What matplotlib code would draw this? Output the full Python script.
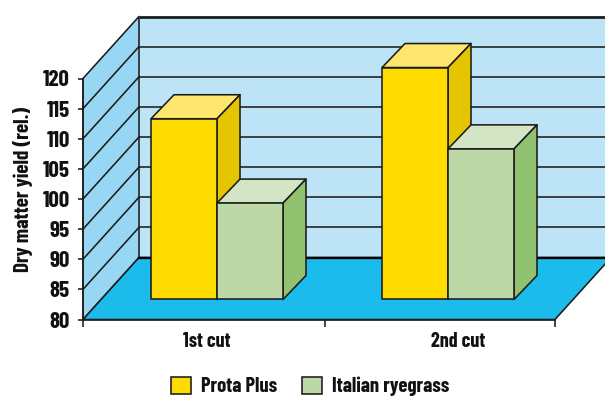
import matplotlib
matplotlib.use("Agg")
import matplotlib.pyplot as plt
from matplotlib.patches import Polygon, Rectangle
from matplotlib.font_manager import fontManager

# Relative yield per cut
categories = ["1st cut", "2nd cut"]
series_names = ["Prota Plus", "Italian ryegrass"]
prota_plus = [110, 118.5]
italian_ryegrass = [96, 105]
y_ticks = list(range(80, 125, 5))

W, H = 605, 399
names = {f.name for f in fontManager.ttflist}
if "Barlow Condensed" in names:
    FONT, SCALE = "Barlow Condensed", 1.0
else:
    FONT, SCALE = "Liberation Sans", 0.78
INK = "#1c1c1c"
TEXT = "#111111"
LW = 1.15

fig = plt.figure(figsize=(W / 100, H / 100), dpi=100)
# Front plane of the plot box, placed in pixels
left, right, bottom, top = 83, 555, 399 - 319.5, 399 - 78.5
ax = fig.add_axes([left / W, bottom / H, (right - left) / W, (top - bottom) / H])
ax.set_xlim(left, right)
ax.set_ylim(80, 120)
ax.patch.set_visible(False)

per_value = (top - bottom) / 40          # pixels per unit of yield
wall_dx, wall_dy = 56, 62 / per_value    # depth of the box
bar_dx, bar_dy = 23, 24 / per_value      # depth of a bar
lift = 20 / per_value                    # bars stand partway back on the floor
bar_w = 66
group_left = [151, 382]
clip_right = W + 10


def poly(points, face, z, lw=LW):
    ax.add_patch(Polygon(points, closed=True, facecolor=face, edgecolor=INK,
                         linewidth=lw, joinstyle="round", zorder=z, clip_on=False))


# Back wall, side wall and floor
ax.add_patch(Polygon([(left + wall_dx, 80 + wall_dy), (clip_right, 80 + wall_dy),
                      (clip_right, 120 + wall_dy), (left + wall_dx, 120 + wall_dy)],
                     closed=True, facecolor="#bde3f7", edgecolor="none", zorder=1, clip_on=False))
poly([(left, 80), (left + wall_dx, 80 + wall_dy), (left + wall_dx, 120 + wall_dy), (left, 120)],
     "#97d7f3", 2)
poly([(left, 80), (right, 80), (right + wall_dx, 80 + wall_dy), (left + wall_dx, 80 + wall_dy)],
     "#1bbbec", 2)

# Grid lines run across both walls
for v in y_ticks[1:]:
    lw = 2.0 if v == 120 else LW
    ax.plot([left + wall_dx, clip_right], [v + wall_dy] * 2, color=INK, lw=lw, zorder=3,
            clip_on=False, solid_capstyle="butt")
    if v < 120:
        ax.plot([left, left + wall_dx], [v, v + wall_dy], color=INK, lw=LW, zorder=3, clip_on=False)
ax.plot([left + wall_dx, clip_right], [80 + wall_dy] * 2, color="black", lw=1.7, zorder=3, clip_on=False)


def bar(x, value, front, roof, side, z):
    base = 80 + lift
    height = value + lift
    poly([(x, base), (x + bar_w, base), (x + bar_w, height), (x, height)], front, z + 0.2)
    poly([(x, height), (x + bar_w, height), (x + bar_w + bar_dx, height + bar_dy),
          (x + bar_dx, height + bar_dy)], roof, z)
    poly([(x + bar_w, base), (x + bar_w + bar_dx, base + bar_dy),
          (x + bar_w + bar_dx, height + bar_dy), (x + bar_w, height)], side, z)


for i, x0 in enumerate(group_left):
    z = 4 + i
    bar(x0, prota_plus[i], "#ffdc00", "#ffe76f", "#e5c500", z)
    bar(x0 + bar_w, italian_ryegrass[i], "#bbd8a6", "#d4e5c6", "#91c26f", z + 0.4)

# Axes, ticks and labels
for s in ("top", "right"):
    ax.spines[s].set_visible(False)
for s in ("left", "bottom"):
    ax.spines[s].set_linewidth(LW)
    ax.spines[s].set_color(INK)
    ax.spines[s].set_zorder(6)
ax.set_yticks(y_ticks)
ax.set_yticklabels([str(v) for v in y_ticks], fontsize=16.5 * SCALE, fontweight="bold",
                   family=FONT, color=TEXT)
ax.tick_params(axis="y", length=3.5, width=LW, color=INK, pad=6)
ax.set_xticks([left, 325, right])
ax.set_xticklabels([])
ax.tick_params(axis="x", length=5, width=LW, color=INK)
for label, xc in zip(categories, [207, 458]):
    ax.annotate(label, xy=(xc, 80), xycoords="data", xytext=(0, -15.5), textcoords="offset points",
                ha="center", va="center", fontsize=14.5 * SCALE, fontweight="bold", family=FONT,
                color=TEXT, annotation_clip=False)
fig.text(23 / W, 1 - 189 / H, "Dry matter yield (rel.)", rotation=90, ha="center", va="center",
         fontsize=15.2 * SCALE, fontweight="bold", family=FONT, color=TEXT)

# Legend
handles = [Rectangle((0, 0), 1, 1, facecolor=c, edgecolor=INK, linewidth=LW)
           for c in ("#ffdc00", "#bbd8a6")]
fig.legend(handles, series_names, loc="center", bbox_to_anchor=(310 / W, 1 - 386.5 / H),
           ncol=2, frameon=False, handlelength=0.95, handleheight=0.95, handletextpad=0.49,
           columnspacing=1.22, prop={"family": FONT, "weight": "bold", "size": 14.8 * SCALE},
           labelcolor=TEXT, borderpad=0, borderaxespad=0)

fig.savefig("out.png", dpi=100)
